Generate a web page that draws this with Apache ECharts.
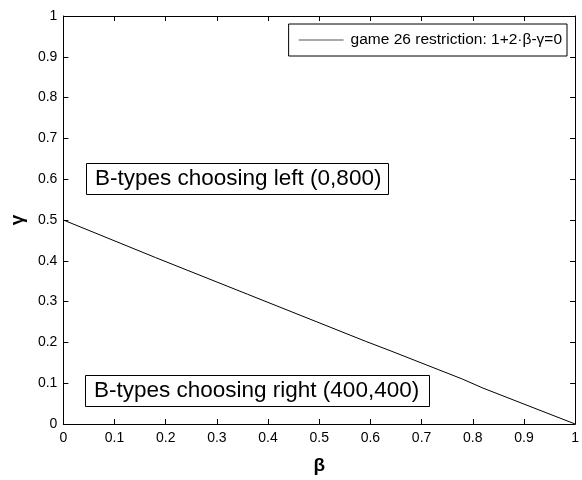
<!DOCTYPE html>
<html lang="en">
<head>
    <meta charset="UTF-8">
    <title>game 26 restriction</title>
    <script src="https://cdn.jsdelivr.net/npm/echarts@6/dist/echarts.min.js"></script>
    <style>
        html, body { margin: 0; padding: 0; background: #fff; }
    </style>
</head>
<body>
<div id="main" style="width: 582px;height: 480px;"></div>
<script>
    // data
    var betaValues  = [0, 0.18, 0.36, 0.59, 0.64, 0.78, 0.82, 1];
    var gammaValues = [0.5, 0.408, 0.318, 0.203, 0.179, 0.11, 0.088, 0];
    var tickLabels  = ['0', '0.1', '0.2', '0.3', '0.4', '0.5', '0.6', '0.7', '0.8', '0.9', '1'];
    var seriesName  = 'game 26 restriction: 1+2\u00b7\u03b2-\u03b3=0';
    var regionTexts = ['B-types choosing left (0,800)', 'B-types choosing right (400,400)'];

    var points = betaValues.map(function (b, i) { return [b, gammaValues[i]]; });
    var font = 'Liberation Sans, Arial, Helvetica, sans-serif';

    function fmt(v) {
        var idx = Math.round(v * 10);
        return tickLabels[idx] !== undefined ? tickLabels[idx] : '';
    }

    var baseAxis = {
        type: 'value', min: 0, max: 1, interval: 0.1,
        axisLine: { show: true, onZero: false, lineStyle: { color: '#000', width: 1 } },
        axisTick: { show: true, inside: true, length: 5, lineStyle: { color: '#000' } },
        splitLine: { show: false }
    };

    var chart = echarts.init(document.getElementById('main'));
    var option = {
        backgroundColor: '#fff',
        animation: false,
        grid: { left: 63, right: 3, top: 16, bottom: 56, containLabel: false },
        title: [
            {
                text: regionTexts[0], left: 86, top: 163,
                borderColor: '#000', borderWidth: 1, backgroundColor: '#fff',
                padding: [3, 7, 3, 9],
                textStyle: { fontFamily: font, fontSize: 22.5, fontWeight: 'normal', color: '#000', lineHeight: 26 }
            },
            {
                text: regionTexts[1], left: 85, top: 375,
                borderColor: '#000', borderWidth: 1, backgroundColor: '#fff',
                padding: [3, 11, 3, 9],
                textStyle: { fontFamily: font, fontSize: 22.5, fontWeight: 'normal', color: '#000', lineHeight: 26 }
            }
        ],
        legend: {
            data: [{ name: seriesName, icon: 'rect' }],
            right: 15, top: 24,
            borderColor: '#000', borderWidth: 1, backgroundColor: '#fff',
            padding: [8, 5, 8, 10],
            itemWidth: 45, itemHeight: 1,
            itemStyle: { color: '#555' },
            textStyle: { fontFamily: font, fontSize: 15.5, color: '#000', lineHeight: 15, padding: [0, 0, 0, 2] }
        },
        xAxis: [
            Object.assign({}, baseAxis, {
                position: 'bottom',
                name: '\u03b2', nameLocation: 'middle', nameGap: 32,
                nameTextStyle: { fontFamily: font, fontSize: 19, fontWeight: 'bold', color: '#000' },
                axisLabel: { color: '#000', fontFamily: font, fontSize: 14, margin: 7, formatter: fmt }
            }),
            Object.assign({}, baseAxis, { position: 'top', axisLabel: { show: false } })
        ],
        yAxis: [
            Object.assign({}, baseAxis, {
                position: 'left',
                name: '\u03b3', nameLocation: 'middle', nameGap: 33, nameRotate: 90,
                nameTextStyle: { fontFamily: font, fontSize: 19, fontWeight: 'bold', color: '#000' },
                axisLabel: { color: '#000', fontFamily: font, fontSize: 14, margin: 6, formatter: fmt }
            }),
            Object.assign({}, baseAxis, { position: 'right', axisLabel: { show: false } })
        ],
        series: [
            {
                name: seriesName,
                type: 'line',
                data: points,
                symbol: 'none',
                lineStyle: { color: '#000', width: 1 },
                itemStyle: { color: '#000' }
            }
        ]
    };
    chart.setOption(option);
</script>
</body>
</html>
